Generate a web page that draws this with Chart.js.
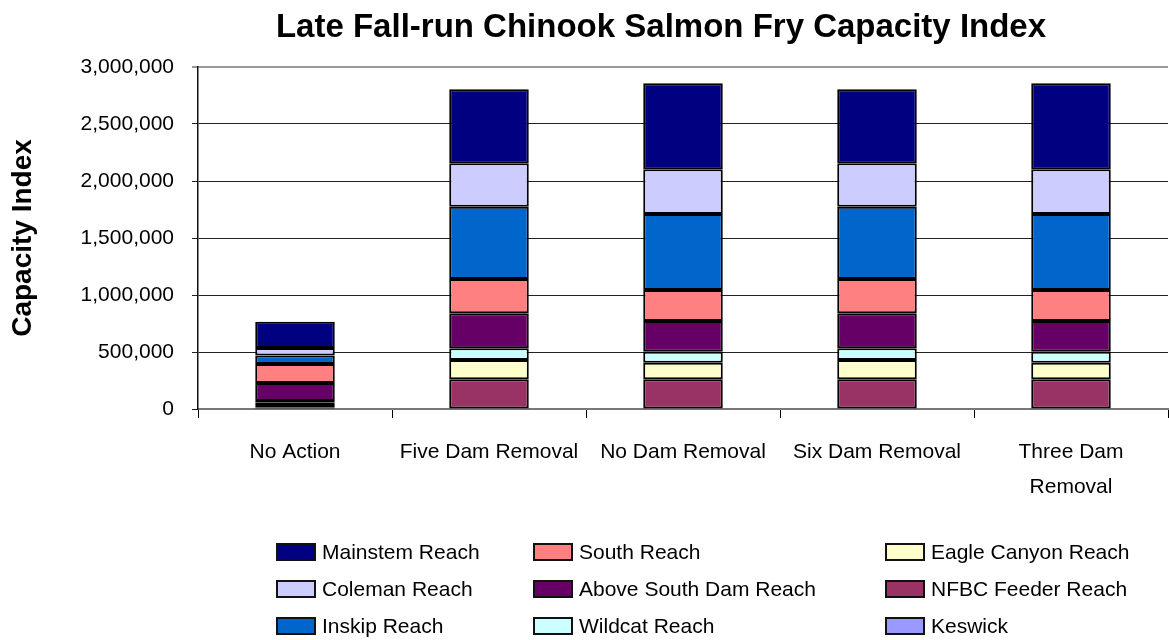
<!DOCTYPE html>
<html>
<head>
<meta charset="utf-8">
<script src="https://cdn.jsdelivr.net/npm/chart.js@4.4.0/dist/chart.umd.min.js"></script>
<style>
  html, body { margin: 0; padding: 0; background: #fff; }
  #wrap { position: relative; width: 1169px; height: 640px; }
  #legend { position: absolute; left: 0; top: 0; width: 1169px; height: 640px; pointer-events: none;
            font-family: 'Liberation Sans', Arial, sans-serif; font-size: 21px; color: #000; }
  .item { position: absolute; display: flex; align-items: center; white-space: nowrap; transform: translateY(-50%); }
  .sw { width: 40px; height: 18px; border: 2px solid #111; box-sizing: border-box; margin-right: 6px; }
</style>
</head>
<body>
<div id="wrap">
  <canvas id="chart" width="1169" height="640"></canvas>
  <div id="legend"></div>
</div>
<script>
// categories (x axis)
const categories = ['No Action', 'Five Dam Removal', 'No Dam Removal', 'Six Dam Removal', ['Three Dam', 'Removal']];

// series, bottom of the stack first
const keswick    = [10000,   5000,   5000,   5000,   5000];
const nfbcFeeder = [25000, 255000, 255000, 255000, 255000];
const eagleCanyon = [20000, 170000, 146000, 170000, 146000];
const wildcat    = [15000, 102000,  97000, 102000,  97000];
const aboveSouth = [158000, 307000, 269000, 307000, 269000];
const south      = [167000, 301000, 272000, 301000, 272000];
const inskip     = [74000, 635000, 667000, 635000, 667000];
const coleman    = [66000, 380000, 392000, 380000, 392000];
const mainstem   = [231000, 649000, 754000, 649000, 754000];

const seriesNames = ['Keswick', 'NFBC Feeder Reach', 'Eagle Canyon Reach', 'Wildcat Reach',
  'Above South Dam Reach', 'South Reach', 'Inskip Reach', 'Coleman Reach', 'Mainstem Reach'];
const seriesValues = [keswick, nfbcFeeder, eagleCanyon, wildcat, aboveSouth, south, inskip, coleman, mainstem];
const seriesColors = ['#9999FF', '#993366', '#FFFFCC', '#CCFFFF', '#660066', '#FF8080', '#0066CC', '#CCCCFF', '#000080'];

const FONT = "'Liberation Sans', Arial, sans-serif";
const PLOT_LEFT = 198, PLOT_TOP = 67, PLOT_BOTTOM = 409;

const datasets = seriesNames.map((name, i) => ({
  label: name,
  data: seriesValues[i],
  backgroundColor: seriesColors[i],
  borderColor: '#000',
  borderWidth: 2,
  borderSkipped: false,
  barPercentage: 0.41,
  categoryPercentage: 1
}));

// title drawn on the canvas, centred like the original
const titlePlugin = {
  id: 'bigTitle',
  beforeDraw(chart) {
    const c = chart.ctx;
    c.save();
    c.fillStyle = '#fff';
    c.fillRect(0, 0, chart.width, chart.height);
    c.fillStyle = '#000';
    c.font = 'bold 33px ' + FONT;
    c.textAlign = 'center';
    c.textBaseline = 'middle';
    c.fillText('Late Fall-run Chinook Salmon Fry Capacity Index', 661, 28);
    c.restore();
  }
};

new Chart(document.getElementById('chart').getContext('2d'), {
  type: 'bar',
  data: { labels: categories, datasets: datasets },
  options: {
    responsive: false,
    animation: false,
    devicePixelRatio: 1,
    layout: { padding: { top: PLOT_TOP, right: 1, left: 0, bottom: 0 } },
    plugins: { legend: { display: false }, tooltip: { enabled: false }, title: { display: false } },
    scales: {
      x: {
        stacked: true,
        offset: true,
        grid: { offset: true, drawOnChartArea: false, drawTicks: true, tickLength: 9, color: '#000' },
        border: { display: true, color: '#777', width: 2 },
        ticks: { color: '#000', font: { family: FONT, size: 21, lineHeight: 1.7 }, padding: 16,
                 maxRotation: 0, autoSkip: false },
        afterFit(scale) { scale.height = 640 - PLOT_BOTTOM; }
      },
      y: {
        stacked: true,
        min: 0,
        max: 3000000,
        ticks: {
          stepSize: 500000,
          color: '#000',
          font: { family: FONT, size: 21 },
          padding: 18,
          callback: v => v.toLocaleString('en-US')
        },
        grid: {
          color: ctx => ctx.tick && ctx.tick.value === 3000000 ? '#999' : '#222',
          lineWidth: ctx => ctx.tick && ctx.tick.value === 3000000 ? 2 : 1,
          tickLength: 6
        },
        border: { display: true, color: '#111', width: 1.5 },
        title: { display: true, text: 'Capacity Index', color: '#000',
                 font: { family: FONT, size: 28, weight: 'bold' }, padding: { top: 6, bottom: 0 } },
        afterFit(scale) { scale.width = PLOT_LEFT; }
      }
    }
  },
  plugins: [titlePlugin]
});

// legend: three columns, read top of the stack first
const legendEl = document.getElementById('legend');
const colX = [276, 533, 885];
const rowY = [552, 589, 626];
seriesNames.slice().reverse().forEach((name, i) => {
  const idx = seriesNames.indexOf(name);
  const item = document.createElement('div');
  item.className = 'item';
  item.style.left = colX[Math.floor(i / 3)] + 'px';
  item.style.top = rowY[i % 3] + 'px';
  item.innerHTML = '<span class="sw" style="background:' + seriesColors[idx] + '"></span><span>' + name + '</span>';
  legendEl.appendChild(item);
});
</script>
</body>
</html>
